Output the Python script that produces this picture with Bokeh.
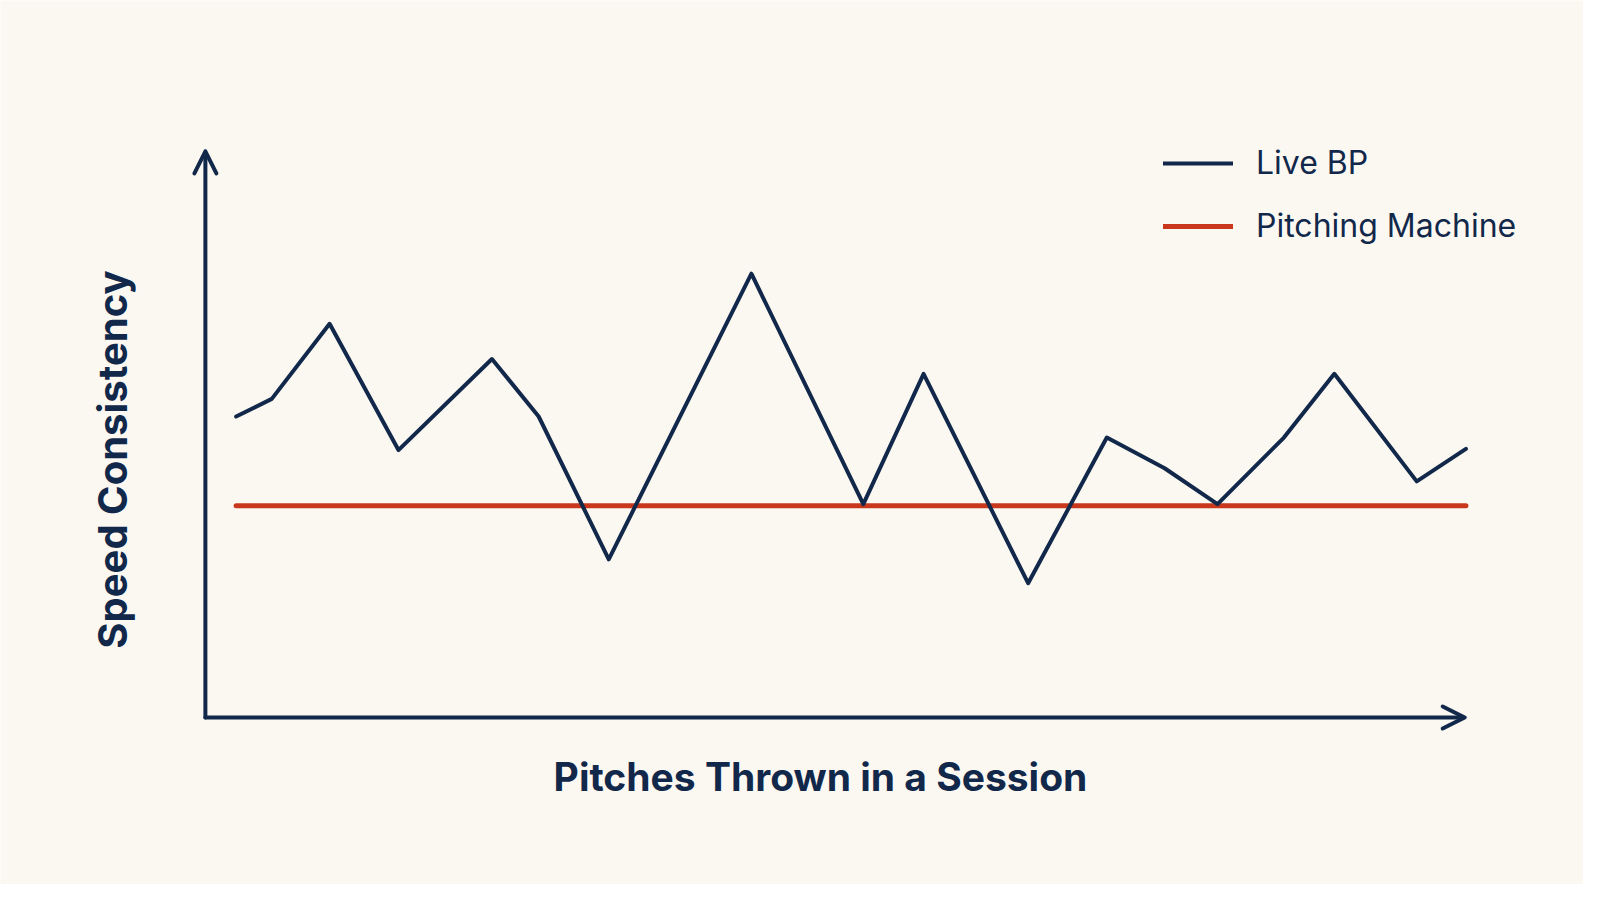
import math
from bokeh.plotting import figure
from bokeh.models import Range1d, Arrow, OpenHead, Label, Legend, LegendItem
from bokeh.embed import file_html
from bokeh.resources import INLINE

# ---- data ----
pitch_x = [0, 2.9, 7.6, 13.2, 20.8, 24.6, 30.3, 41.9, 51.0, 55.9, 64.4,
           70.8, 75.5, 79.8, 85.2, 89.3, 96.0, 100]
live_bp = [52.9, 56.0, 69.2, 47.0, 63.0, 52.9, 27.8, 78.0, 37.5, 60.4, 23.6,
           49.2, 43.8, 37.5, 49.2, 60.4, 41.5, 47.2]
machine_x = [0, 100]
machine_y = [37.2, 37.2]
series_names = ["Live BP", "Pitching Machine"]
x_title = "Pitches Thrown in a Session"
y_title = "Speed Consistency"

NAVY = "#12284B"
RED = "#C9381D"
BG = "#FBF8F1"
FONT = "Inter"

p = figure(width=1583, height=884, x_range=Range1d(-19.16, 109.56),
           y_range=Range1d(-29.35, 126.01), min_border=0,
           toolbar_location=None, output_backend="svg")
p.background_fill_color = BG
p.border_fill_color = BG
p.outline_line_color = None
p.axis.visible = False
p.grid.visible = False

machine = p.line(machine_x, machine_y, line_color=RED, line_width=5, line_cap="round")
live = p.line(pitch_x, live_bp, line_color=NAVY, line_width=4,
              line_join="round", line_cap="round")

# axis arrows
ax0 = -2.5
p.add_layout(Arrow(end=OpenHead(size=22, line_width=4, line_color=NAVY, line_cap="round", line_join="round"),
                   x_start=ax0, y_start=0, x_end=ax0, y_end=99.5,
                   line_color=NAVY, line_width=4, line_cap="round"))
p.add_layout(Arrow(end=OpenHead(size=22, line_width=4, line_color=NAVY, line_cap="round", line_join="round"),
                   x_start=ax0, y_start=0, x_end=99.9, y_end=0,
                   line_color=NAVY, line_width=4, line_cap="round"))

# axis titles
p.add_layout(Label(x=820, y=108, x_units="screen", y_units="screen", text=x_title,
                   text_font=FONT, text_font_style="bold", text_font_size="39px",
                   text_color=NAVY, text_align="center", text_baseline="alphabetic"))
p.add_layout(Label(x=112, y=425, x_units="screen", y_units="screen", text=y_title,
                   angle=math.pi / 2,
                   text_font=FONT, text_font_style="bold", text_font_size="40px",
                   text_color=NAVY, text_align="center", text_baseline="alphabetic"))

legend = Legend(items=[LegendItem(label=series_names[0], renderers=[live]),
                       LegendItem(label=series_names[1], renderers=[machine])],
                location=(1163, 639))
legend.glyph_width = 70
legend.glyph_height = 30
legend.label_height = 30
legend.label_standoff = 23
legend.spacing = 24
legend.padding = 0
legend.margin = 0
legend.border_line_alpha = 0
legend.background_fill_alpha = 0
legend.label_text_font = FONT
legend.label_text_font_size = "32px"
legend.label_text_color = NAVY
p.add_layout(legend)

open("out.html", "w").write(file_html(p, INLINE))
